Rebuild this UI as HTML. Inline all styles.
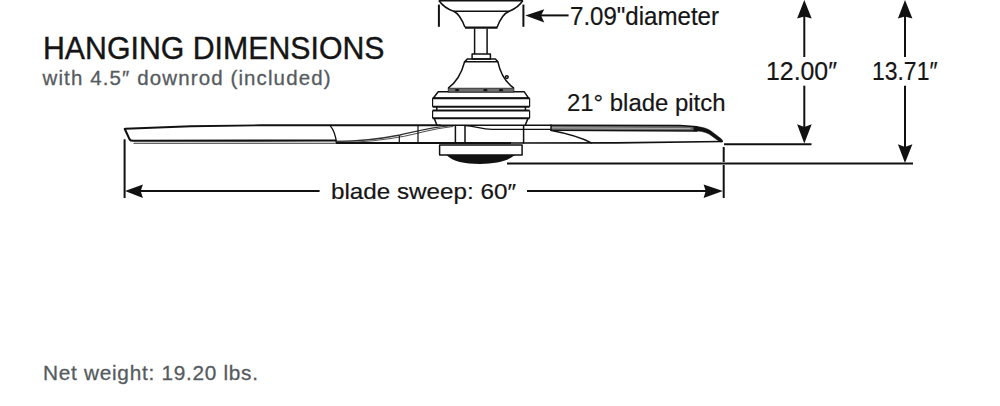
<!DOCTYPE html>
<html><head><meta charset="utf-8">
<style>
html,body{margin:0;padding:0;background:#fff;width:1000px;height:406px;overflow:hidden}
svg{display:block}
text{font-family:"Liberation Sans",sans-serif}
</style></head>
<body>
<svg width="1000" height="406" viewBox="0 0 1000 406">
<rect width="1000" height="406" fill="#fff"/>

<!-- TEXT -->
<text x="43" y="58.6" font-size="32" fill="#151515" stroke="#151515" stroke-width="0.4" textLength="341.5" lengthAdjust="spacingAndGlyphs">HANGING DIMENSIONS</text>
<text x="42.5" y="84.6" font-size="20.5" fill="#565b60" stroke="#565b60" stroke-width="0.3" textLength="288" lengthAdjust="spacing">with 4.5″ downrod (included)</text>
<text x="43" y="380" font-size="20.8" fill="#565b60" stroke="#565b60" stroke-width="0.3" textLength="215" lengthAdjust="spacing">Net weight: 19.20 lbs.</text>
<text x="570" y="24.6" font-size="25" fill="#151515" stroke="#151515" stroke-width="0.2" textLength="149" lengthAdjust="spacingAndGlyphs">7.09"diameter</text>
<text x="567" y="110.7" font-size="24.8" fill="#151515" stroke="#151515" stroke-width="0.2" textLength="158.5" lengthAdjust="spacingAndGlyphs">21° blade pitch</text>
<text x="331" y="199.3" font-size="22.6" fill="#151515" stroke="#151515" stroke-width="0.2" textLength="185" lengthAdjust="spacingAndGlyphs">blade sweep: 60″</text>
<text x="766" y="80.3" font-size="25.3" fill="#151515" stroke="#151515" stroke-width="0.2" textLength="71" lengthAdjust="spacingAndGlyphs">12.00″</text>
<text x="872" y="80.3" font-size="25.3" fill="#151515" stroke="#151515" stroke-width="0.2" textLength="65.5" lengthAdjust="spacingAndGlyphs">13.71″</text>

<!-- DIMENSION LINES -->
<g stroke="#111" stroke-width="2" fill="none">
  <!-- canopy ticks -->
  <line x1="438.9" y1="4.6" x2="438.9" y2="26.8"/>
  <line x1="523.4" y1="4.6" x2="523.4" y2="26.8"/>
  <line x1="540" y1="15.4" x2="568.6" y2="15.4"/>
  <!-- 12.00 -->
  <line x1="804.3" y1="15" x2="804.3" y2="57"/>
  <line x1="804.3" y1="85.7" x2="804.3" y2="128"/>
  <line x1="724" y1="144.3" x2="811.5" y2="144.3"/>
  <!-- 13.71 -->
  <line x1="905" y1="15" x2="905" y2="57"/>
  <line x1="905" y1="85.7" x2="905" y2="147"/>
  <line x1="507" y1="163.6" x2="913" y2="163.6"/>
  <!-- blade sweep -->
  <line x1="124.6" y1="139.3" x2="124.6" y2="198"/>
  <line x1="723.7" y1="147" x2="723.7" y2="162"/>
  <line x1="723.7" y1="165" x2="723.7" y2="198"/>
  <line x1="138" y1="191" x2="319.6" y2="191"/>
  <line x1="527" y1="191" x2="708" y2="191"/>
</g>
<g fill="#111" stroke="none">
  <path d="M525.3 15.4 L544.3 9.3 L541 15.4 L544.3 22.6 Z"/>
  <path d="M804.3 0 L811.7 18.6 L804.3 16.4 L797.1 18.6 Z"/>
  <path d="M804.3 143.6 L811.7 124.3 L804.3 126.9 L797.1 124.3 Z"/>
  <path d="M905 0 L912.4 18.6 L905 16.4 L897.9 18.6 Z"/>
  <path d="M905 162.9 L912.4 144.3 L905 146.9 L897.9 144.3 Z"/>
  <path d="M125 191 L142.9 184.6 L140.7 191 L142.9 197.9 Z"/>
  <path d="M722.9 191 L703.6 184.6 L705.7 191 L703.6 197.9 Z"/>
</g>

<!-- FAN -->
<g stroke="#111" stroke-width="1.5" fill="none" stroke-linejoin="round">
  <!-- canopy -->
  <path d="M438.9 0.6 L522.9 0.6" stroke-width="2"/>
  <path d="M438.9 0.5 C442 5 447 9 453.6 11.2 C460 14 463 22 465 27.3"/>
  <path d="M522.9 0.5 C520 5 515 9 509.3 11.2 C502 14 499 22 497.1 27.3"/>
  <path d="M453.6 11.2 L509.3 11.2"/>
  <path d="M465 27.6 L497.5 27.6" stroke-width="2.4"/>
  <!-- downrod -->
  <path d="M474.6 28.5 L474.6 54.1 M487.1 28.5 L487.1 54.1"/>
  <rect x="472.1" y="54.1" width="18.3" height="4.8"/>
  <path d="M467.5 58.9 L495.4 58.9 L497.9 61.8 L464.6 61.8 Z"/>
  <!-- bell -->
  <path d="M464.6 61.8 C462 72 458 81 448.2 88.2"/>
  <path d="M497.9 61.8 C500 72 504 81 513.9 88.2"/>
  <circle cx="506.8" cy="77.1" r="1.4"/>
  <!-- housing -->
  <path d="M438.2 91.8 L524.3 91.8 L528.6 98.2 L433.2 98.2 Z"/>
  <path d="M432.6 98.3 L529.6 98.3 M432.6 106.7 L529.6 106.7" stroke-width="2"/><path d="M432.6 98.3 L432.6 106.7 M529.6 98.3 L529.6 106.7" stroke-width="1.2"/>
  <path d="M436.8 106.8 L436.8 110.6 M525.4 106.8 L525.4 110.6"/>
  <path d="M432.6 110.5 L529.6 110.5 M432.6 118.3 L529.6 118.3" stroke-width="2"/><path d="M432.6 110.5 L432.6 118.3 M529.6 110.5 L529.6 118.3" stroke-width="1.2"/>
  <path d="M434.3 118.6 L437 125.2 M527.9 118.6 L525.2 125.2"/>
  <!-- light kit -->
  <path d="M439.6 145 L522.1 145 L522.1 155 L439.6 155 Z"/>
</g>
<rect x="448.2" y="88.2" width="65.7" height="3.9" fill="#6e6e6e" stroke="#222" stroke-width="0.8"/>
<g fill="#111">
  <ellipse cx="457.1" cy="90.2" rx="2.2" ry="1.1"/>
  <ellipse cx="485.4" cy="90.2" rx="2.2" ry="1.1"/>
  <ellipse cx="501.1" cy="90.2" rx="2.2" ry="1.1"/>
</g>
<path d="M446.4 155 L515 155 C507 161.5 496 163.9 480 163.9 C464 163.9 453 161.5 446.4 155 Z" fill="#111"/>

<!-- BLADES -->
<g stroke="#111" fill="none" stroke-linecap="round">
  <!-- left blade outline -->
  <path d="M125.2 128.8 L191 126.2 L261 125.3 L440 125.3" stroke-width="1.9" stroke-linejoin="round"/>
  <path d="M124.8 129 L129.6 139.4 Q130.5 140.8 133 140.8 L336 140.5" stroke-width="2.1" stroke-linejoin="round"/>
  <path d="M134 143.2 L440 143.2" stroke-width="1.1" stroke="#333"/>
  <path d="M330 125.4 Q335.5 132 336.4 143" stroke-width="1.3"/>
  <!-- twist band -->
  <path d="M336 141.3 C362 141.3 380 139 400 135 C420 130.5 432 127 452 125.6" stroke-width="1.3" stroke="#333"/>
  <path d="M340 142.5 C366 142.3 384 140.3 404 136.3 C424 131.8 436 128.2 453 126.5" stroke-width="1.1" stroke="#555"/>
  <path d="M399.3 136 L399.3 142.8 M418 126 L418 142.8" stroke-width="1.2"/>
  <path d="M455.4 125.5 L455.4 143 M465 125.5 L465 143" stroke-width="1.5"/>
  <!-- between -->
  <path d="M440 125.2 L551 125.2" stroke-width="1.5"/>
  <path d="M336 143 L511 143" stroke-width="1.9" stroke-linecap="butt"/>
  <path d="M511 143 L616 142.9 L722.2 141.5" stroke-width="1.6"/>
  <path d="M465 125.6 C475 126 481 129.3 492 129.3 L551 129.3" stroke-width="1.2"/>
  <path d="M523.6 125.5 L523.6 143" stroke-width="1.5"/>
  <!-- right blade band -->
  <path d="M551 125.2 L680 125.5 L697 126.6 L697 130.9 L551 130.4 Z" fill="#6a6a6a" stroke="none"/>
  <path d="M551 125.2 L680 125.5 L697 126.8" stroke-width="1.6"/>
  <path d="M551 130.4 L697 131" stroke-width="1.4"/>
  <path d="M551 127.8 L690 128.6" stroke-width="0.9" stroke="#b8b8b8"/>
  <path d="M551 125.2 L551 130.5" stroke-width="1.4"/>
  <path d="M694 126.6 C702 126.8 706 128 711 131 L721.2 138.8 Q723.8 141.5 721.3 142 Q719.8 142 718 140.5 L709 134 C704 131.5 700 131 694 131 Z" fill="#111" stroke="#111" stroke-width="0.5"/>
  <path d="M551.5 130.5 C570 134 582 138 591.4 142.9" stroke-width="1.3"/>
</g>
</svg>
</body></html>
